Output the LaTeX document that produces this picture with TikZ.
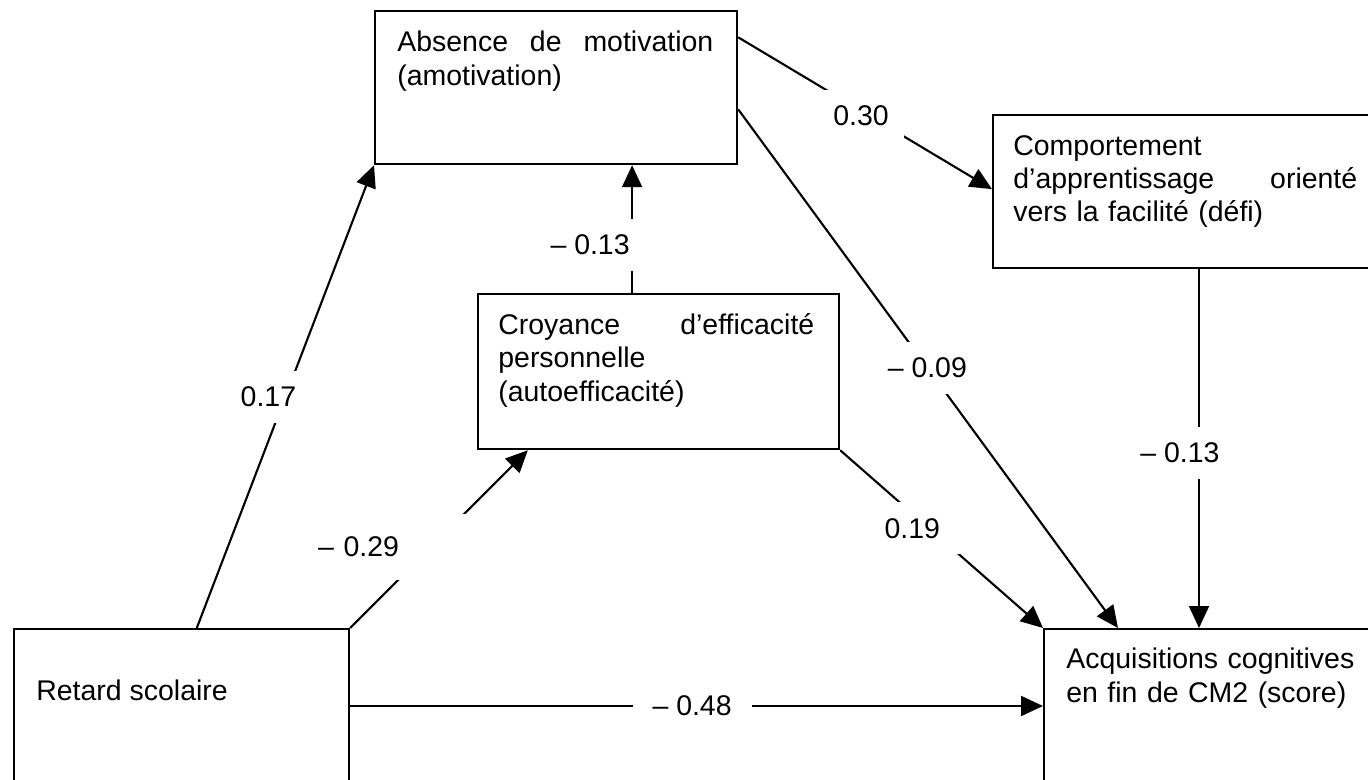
\documentclass[tikz,border=0pt]{standalone}
\usepackage{fontspec}
\setmainfont{Liberation Sans}
\usepackage{tikz}
\usetikzlibrary{positioning,arrows.meta,calc}

\begin{document}
\begin{tikzpicture}[x=0.02cm, y=-0.02cm,
	box/.style={draw, line width=1.3pt, inner sep=0pt, anchor=north west},
	txt/.style={anchor=north west, inner sep=0pt, align=left, font=\fontsize{16.2}{19}\selectfont},
	conn/.style={draw, line width=1.2pt, -{Triangle[length=0.44cm, width=0.4cm]}},
	lbl/.style={fill=white, inner xsep=0.4cm, inner ysep=0.32cm, font=\fontsize{16.2}{19}\selectfont}]
	\useasboundingbox (0,0) rectangle (1368,780);
	\clip (0,0) rectangle (1368,780);

	% boxes
	\node(amotiv)[box, minimum width=7.24cm, minimum height=3.06cm] at (374,10) {};
	\node(comport)[box, minimum width=8.4cm, minimum height=3.06cm] at (992,114) {};
	\node(croy)[box, minimum width=7.22cm, minimum height=3.1cm] at (477,293) {};
	\node(retard)[box, minimum width=6.7cm, minimum height=3.6cm] at (13,628) {};
	\node(acquis)[box, minimum width=7.6cm, minimum height=3.6cm] at (1043,628) {};

	\node(amotivtxt)[txt, text width=6.32cm] at (397,31) {Absence\hfill de\hfill motivation\\(amotivation)};
	\node(comporttxt)[txt, text width=6.88cm] at (1013,135) {Comportement\\d’apprentissage\hfill orienté\\vers la facilité (défi)};
	\node(croytxt)[txt, text width=6.32cm] at (498,313) {Croyance\hfill d’efficacité\\personnelle\\(autoefficacité)};
	\node(retardtxt)[txt] at (36,680) {Retard scolaire};
	\node(acquistxt)[txt, text width=6.2cm] at (1066,648) {Acquisitions cognitives\\en fin de CM2 (score)};

	\coordinate(croyup) at ($(croy.north west)!0.427!(croy.north east)$);
	\coordinate(comportdown) at ($(comport.south west)+(207,0)$);
	\coordinate(retardright) at ($(retard.north east)+(0,78)$);

	% paths
	\path ($(retard.north west)!0.545!(retard.north east)$) edge[conn] node[lbl, pos=0.5, xshift=-0.34cm]{0.17} (amotiv.south west);
	\path (retard.north east) edge[conn] node[lbl, pos=0.456, xshift=-0.9cm, text width=2.72cm, align=left, inner xsep=0.34cm, inner ysep=0.46cm]{– 0.29} ($(croy.south west)!0.14!(croy.south east)$);
	\path (croyup) edge[conn] node[lbl, pos=0.377, xshift=-0.84cm]{– 0.13} (croyup |- amotiv.south);
	\path ($(amotiv.north east)!0.176!(amotiv.south east)$) edge[conn] node[lbl, pos=0.484, yshift=-0.1cm, inner xsep=0.3cm]{0.30} ($(comport.north west)!0.484!(comport.south west)$);
	\path ($(amotiv.north east)!0.64!(amotiv.south east)$) edge[conn] node[lbl, pos=0.498]{– 0.09} ($(acquis.north west)+(75,0)$);
	\path (croy.south east) edge[conn] node[lbl, pos=0.439, xshift=-0.34cm]{0.19} (acquis.north west);
	\path (comportdown) edge[conn] node[lbl, pos=0.512, xshift=-0.38cm]{– 0.13} (comportdown |- acquis.north);
	\path (retardright) edge[conn] node[lbl, pos=0.4935]{– 0.48} (retardright -| acquis.west);
\end{tikzpicture}
\end{document}
